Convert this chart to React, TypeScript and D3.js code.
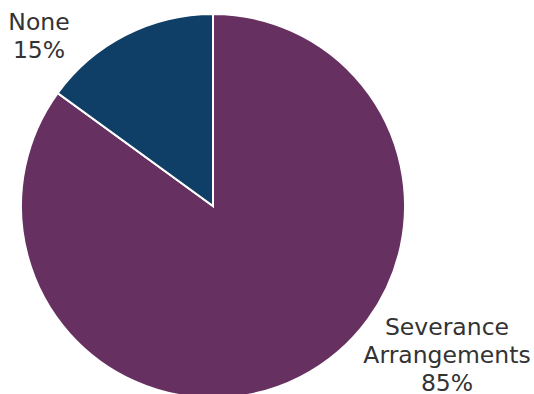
import React from "react";
import * as d3 from "d3";

const categories = ["Severance Arrangements", "None"];
const values = [85, 15];
const labelLines = [["Severance", "Arrangements", "85%"], ["None", "15%"]];
const colors = ["#663060", "#0f3f66"];

const W = 534;
const H = 394;

export default function App() {
  const cx = 213, cy = 206, r = 192;
  const pie = d3.pie<number>().sort(null).value((d) => d)(values);
  const arc = d3.arc<d3.PieArcDatum<number>>().innerRadius(0).outerRadius(r);
  const labelPos = [
    { x: 447, y: 335 },
    { x: 39, y: 30 },
  ];
  return (
    <svg width={W} height={H} style={{ position: "absolute", left: 0, top: 0, display: "block" }}>
      <g transform={`translate(${cx},${cy})`}>
        {pie.map((p, i) => (
          <path key={categories[i]} d={arc(p) || ""} fill={colors[i]} stroke="#ffffff" strokeWidth={2} />
        ))}
      </g>
      {labelLines.map((lines, i) => (
        <text
          key={i}
          x={labelPos[i].x}
          y={labelPos[i].y}
          textAnchor="middle"
          fontFamily="'DejaVu Sans', sans-serif"
          fontSize={23.5}
          fill="#333333"
        >
          {lines.map((l, j) => (
            <tspan key={j} x={labelPos[i].x} dy={j === 0 ? 0 : 28}>
              {l}
            </tspan>
          ))}
        </text>
      ))}
    </svg>
  );
}
